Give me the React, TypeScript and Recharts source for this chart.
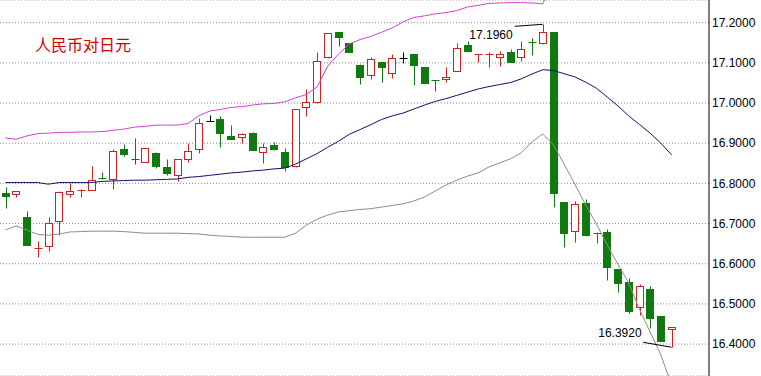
import React from 'react';
import { Bar, CartesianGrid, ComposedChart, Line, ReferenceDot, XAxis, YAxis } from 'recharts';

const opens = [
  16.776, 16.773, 16.716, 16.636, 16.644, 16.707, 16.774, 16.781, 16.784, 16.813,
  16.81, 16.885, 16.861, 16.854, 16.876, 16.84, 16.821, 16.86, 16.885, 16.956,
  16.96, 16.918, 16.915, 16.926, 16.879, 16.895, 16.877, 16.844, 16.989, 17.003,
  17.114, 17.176, 17.149, 17.095, 17.07, 17.101, 17.074, 17.113, 17.121, 17.089,
  17.058, 17.059, 17.08, 17.144, 17.119, 17.119, 17.114, 17.128, 17.115, 17.151,
  17.149, 17.177, 16.753, 16.681, 16.75, 16.675, 16.678, 16.586, 16.554, 16.492,
  16.536, 16.47, 16.437,
];
const highs = [
  16.791, 16.782, 16.73, 16.657, 16.717, 16.78, 16.802, 16.785, 16.843, 16.828,
  16.885, 16.897, 16.912, 16.888, 16.877, 16.86, 16.861, 16.9, 16.964, 16.97,
  16.968, 16.945, 16.925, 16.929, 16.901, 16.903, 16.887, 16.986, 17.034, 17.127,
  17.175, 17.177, 17.15, 17.097, 17.114, 17.102, 17.122, 17.128, 17.122, 17.09,
  17.058, 17.089, 17.149, 17.154, 17.121, 17.128, 17.13, 17.135, 17.155, 17.161,
  17.196, 17.178, 16.754, 16.755, 16.762, 16.68, 16.686, 16.587, 16.564, 16.55,
  16.545, 16.471, 16.443,
];
const lows = [
  16.739, 16.767, 16.647, 16.617, 16.632, 16.671, 16.767, 16.767, 16.784, 16.812,
  16.785, 16.868, 16.848, 16.852, 16.839, 16.82, 16.807, 16.854, 16.875, 16.956,
  16.891, 16.91, 16.901, 16.883, 16.851, 16.883, 16.831, 16.84, 16.968, 16.999,
  17.113, 17.143, 17.128, 17.047, 17.059, 17.053, 17.062, 17.099, 17.045, 17.049,
  17.031, 17.053, 17.08, 17.13, 17.103, 17.09, 17.092, 17.101, 17.105, 17.12,
  17.148, 16.74, 16.641, 16.653, 16.669, 16.651, 16.559, 16.53, 16.478, 16.472,
  16.441, 16.408, 16.392,
];
const closes = [
  16.769, 16.782, 16.647, 16.638, 16.702, 16.779, 16.78, 16.784, 16.808, 16.812,
  16.881, 16.874, 16.857, 16.887, 16.844, 16.825, 16.86, 16.881, 16.95, 16.956,
  16.925, 16.911, 16.924, 16.883, 16.89, 16.885, 16.841, 16.985, 17.003, 17.105,
  17.174, 17.165, 17.128, 17.066, 17.109, 17.09, 17.111, 17.113, 17.095, 17.051,
  17.056, 17.066, 17.138, 17.13, 17.121, 17.121, 17.122, 17.101, 17.134, 17.149,
  17.178, 16.777, 16.677, 16.749, 16.672, 16.677, 16.593, 16.551, 16.482, 16.545,
  16.464, 16.408, 16.443,
];
const upperBand: (number | null)[] = [
  16.913, 16.91, 16.918, 16.924, 16.925, 16.927, 16.927, 16.928, 16.928, 16.929,
  16.932, 16.935, 16.94, 16.942, 16.945, 16.945, 16.945, 16.949, 16.968, 16.98,
  16.984, 16.989, 16.991, 16.995, 16.998, 16.999, 17.003, 17.013, 17.021, 17.04,
  17.092, 17.122, 17.147, 17.158, 17.166, 17.176, 17.187, 17.202, 17.213, 17.217,
  17.222, 17.225, 17.23, 17.239, 17.243, 17.248, 17.249, 17.25, 17.25, 17.249,
  17.247, 17.3, null, null, null, null, null, null, null, null,
  null, null, null,
];
const middleBand = [
  16.802, 16.802, 16.802, 16.802, 16.798, 16.802, 16.802, 16.802, 16.802, 16.805,
  16.806, 16.807, 16.808, 16.808, 16.809, 16.81, 16.811, 16.815, 16.817, 16.82,
  16.823, 16.826, 16.828, 16.831, 16.833, 16.836, 16.838, 16.848, 16.861, 16.874,
  16.89, 16.905, 16.922, 16.934, 16.946, 16.959, 16.968, 16.975, 16.985, 16.995,
  17.004, 17.011, 17.019, 17.027, 17.035, 17.041, 17.046, 17.051, 17.06, 17.072,
  17.083, 17.081, 17.073, 17.065, 17.052, 17.037, 17.015, 16.993, 16.968, 16.947,
  16.925, 16.9, 16.871,
];
const lowerBand = [
  16.684, 16.694, 16.684, 16.673, 16.671, 16.674, 16.679, 16.68, 16.681, 16.681,
  16.681, 16.68, 16.678, 16.676, 16.676, 16.676, 16.676, 16.675, 16.674, 16.671,
  16.669, 16.668, 16.666, 16.666, 16.666, 16.666, 16.666, 16.676, 16.696, 16.711,
  16.721, 16.729, 16.732, 16.735, 16.737, 16.741, 16.745, 16.749, 16.756, 16.766,
  16.781, 16.796, 16.808, 16.818, 16.826, 16.841, 16.851, 16.861, 16.876, 16.903,
  16.923, 16.896, 16.848, 16.798, 16.746, 16.699, 16.647, 16.599, 16.552, 16.487,
  16.43, 16.373, 16.298,
];
const yTicks = [16.4, 16.5, 16.6, 16.7, 16.8, 16.9, 17.0, 17.1, 17.2];
const title = '人民币对日元';
const highMark = { index: 50, value: 17.196, label: '17.1960' };
const lowMark = { index: 62, value: 16.392, label: '16.3920' };

const RISE = '#cc2222';
const FALL = '#107a10';
const FLAT = '#000000';
const FONT = '"Liberation Sans", Arial, sans-serif';

interface Row {
  idx: number;
  open: number;
  high: number;
  low: number;
  close: number;
  upper: number | null;
  middle: number;
  lower: number;
}

const rows: Row[] = opens.map((open, i) => ({
  idx: i,
  open,
  high: highs[i],
  low: lows[i],
  close: closes[i],
  upper: upperBand[i],
  middle: middleBand[i],
  lower: lowerBand[i],
}));

const crisp = (v: number) => Math.round(v) + 0.5;

const Candle = (props: any) => {
  const { x, y, width, height, payload } = props;
  if (!payload) return null;
  const { open, high, low, close } = payload as Row;
  const top = Math.min(y, y + height);
  const span = Math.abs(height);
  const perUnit = span / (high - low);
  const py = (v: number) => top + (high - v) * perUnit;
  const cx = crisp(x + width / 2);
  const color = close > open ? RISE : close < open ? FALL : FLAT;
  const yHigh = crisp(py(high));
  const yLow = crisp(py(low));
  const bodyTop = crisp(py(Math.max(open, close)));
  const bodyBottom = crisp(py(Math.min(open, close)));

  if (bodyBottom - bodyTop < 2) {
    return (
      <g>
        <line x1={cx} x2={cx} y1={yHigh} y2={yLow} stroke={color} />
        <line x1={cx - 4} x2={cx + 4} y1={bodyTop} y2={bodyTop} stroke={color} />
      </g>
    );
  }
  if (close > open) {
    return (
      <g>
        <line x1={cx} x2={cx} y1={yHigh} y2={yLow} stroke={color} />
        <rect x={cx - 4} y={bodyTop} width={7} height={bodyBottom - bodyTop} fill="#fff" stroke={color} />
      </g>
    );
  }
  return (
    <g>
      <line x1={cx} x2={cx} y1={yHigh} y2={yLow} stroke={color} />
      <rect x={cx - 4.5} y={bodyTop - 0.5} width={8} height={bodyBottom - bodyTop + 1} fill={color} />
    </g>
  );
};

const HighMarker = ({ cx, cy }: { cx?: number; cy?: number }) => {
  if (cx == null || cy == null) return <g />;
  return (
    <g>
      <line x1={cx - 28} y1={cy + 2} x2={cx} y2={cy} stroke="#000" />
      <text x={cx - 30} y={cy + 15} textAnchor="end" fontSize={12} fontFamily={FONT} fill="#000">
        {highMark.label}
      </text>
    </g>
  );
};

const LowMarker = ({ cx, cy }: { cx?: number; cy?: number }) => {
  if (cx == null || cy == null) return <g />;
  return (
    <g>
      <line x1={cx - 28.5} y1={cy - 5} x2={cx} y2={cy} stroke="#000" />
      <text x={cx - 30} y={cy - 10} textAnchor="end" fontSize={12} fontFamily={FONT} fill="#000">
        {lowMark.label}
      </text>
    </g>
  );
};

export default function App() {
  return (
    <div style={{ position: 'absolute', left: 0, top: 0, width: 761, height: 376, background: '#fff' }}>
      <ComposedChart width={761} height={376} data={rows} margin={{ top: 0, right: 0, bottom: 0, left: 0 }}>
        <CartesianGrid horizontal vertical={false} stroke="#8a8a8a" strokeDasharray="1 2" />
        <XAxis dataKey="idx" type="category" hide padding={{ left: 0, right: 32 }} />
        <YAxis
          orientation="right"
          width={52}
          domain={[16.3205, 17.2565]}
          allowDataOverflow
          ticks={yTicks}
          interval={0}
          tickFormatter={(v: number) => v.toFixed(4)}
          axisLine={{ stroke: '#000' }}
          tickLine={false}
          tickSize={2}
          tickMargin={1}
          tick={{ fill: '#000', fontSize: 12, fontFamily: FONT }}
        />
        <Bar
          dataKey={(d: Row) => [d.low, d.high]}
          shape={(p: any) => <Candle {...p} />}
          isAnimationActive={false}
        />
        <Line dataKey="upper" type="linear" stroke="#d63fd6" strokeWidth={1} dot={false} activeDot={false} isAnimationActive={false} />
        <Line dataKey="middle" type="linear" stroke="#10106a" strokeWidth={1} dot={false} activeDot={false} isAnimationActive={false} />
        <Line dataKey="lower" type="linear" stroke="#8c8c8c" strokeWidth={1} dot={false} activeDot={false} isAnimationActive={false} />
        <ReferenceDot x={highMark.index} y={highMark.value} shape={(p: any) => <HighMarker {...p} />} />
        <ReferenceDot x={lowMark.index} y={lowMark.value} shape={(p: any) => <LowMarker {...p} />} />
      </ComposedChart>
      <div
        style={{
          position: 'absolute',
          left: 35,
          top: 36,
          fontSize: 16,
          lineHeight: '16px',
          color: '#d40000',
          fontFamily: '"Noto Sans CJK SC", sans-serif',
        }}
      >
        {title}
      </div>
    </div>
  );
}
